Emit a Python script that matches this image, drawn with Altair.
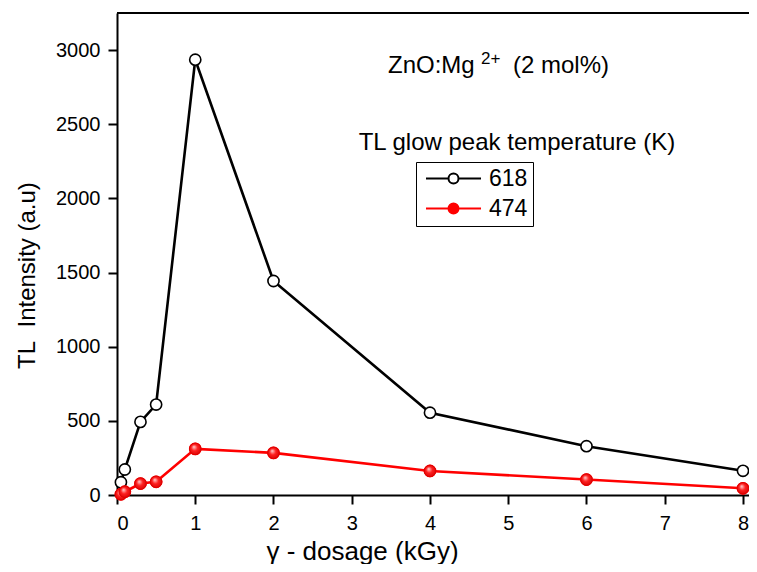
import altair as alt
import pandas as pd

# ---- data ----
dose = [0.05, 0.1, 0.3, 0.5, 1, 2, 4, 6, 8]
tl_618 = [86, 172, 493, 610, 2935, 1443, 555, 329, 163]
tl_474 = [5, 22, 77, 89, 311, 284, 162, 104, 45]
series_names = ["618", "474"]
series_colors = ["#000000", "#ff0000"]
series_fills = ["#ffffff", "#ff0000"]
x_ticks = [0, 1, 2, 3, 4, 5, 6, 7, 8]
y_ticks = [0, 500, 1000, 1500, 2000, 2500, 3000]

df = pd.DataFrame({
    "dose": dose + dose,
    "tl": tl_618 + tl_474,
    "series": [series_names[0]] * len(dose) + [series_names[1]] * len(dose),
})
one = pd.DataFrame({"k": [0]})

W, H = 632, 482
FONT = "Liberation Sans"

x_enc = alt.X("dose:Q", scale=alt.Scale(domain=[0, 8.077], nice=False, zero=False),
              axis=alt.Axis(values=x_ticks, format="d", grid=False, tickSize=9, tickWidth=2,
                            domainWidth=2, domainColor="black", tickColor="black",
                            labelFontSize=20, labelPadding=9, labelColor="black", labelFont=FONT,
                            title="γ - dosage (kGy)", titleFontSize=26, titleFontWeight="normal",
                            titleFont=FONT, titleColor="black", titleX=245, titleY=64,
                            titleBaseline="alphabetic", titleAlign="center"))
y_enc = alt.Y("tl:Q", scale=alt.Scale(domain=[0, 3250], nice=False),
              axis=alt.Axis(values=y_ticks, format="d", grid=False, tickSize=9, tickWidth=2,
                            domainWidth=2, domainColor="black", tickColor="black",
                            labelFontSize=20, labelPadding=8, labelColor="black", labelFont=FONT,
                            title="TL\u00a0\u00a0Intensity (a.u)", titleFontSize=24,
                            titleFontWeight="normal", titleFont=FONT, titleColor="black",
                            titleX=-83, titleY=262, titleAngle=270,
                            titleBaseline="alphabetic", titleAlign="center"))

sym_path = "M-5.5,0L-1,0M1,0L5.5,0M-1,0A1,1,0,1,0,1,0A1,1,0,1,0,-1,0Z"
leg = alt.Legend(title=None, orient="none", legendX=299, legendY=149,
                 strokeColor="black", padding=5, rowPadding=6,
                 symbolType=sym_path, symbolSize=100, symbolStrokeWidth=2,
                 symbolOffset=21, labelOffset=24, labelFontSize=23, labelFont=FONT,
                 labelColor="black", cornerRadius=0)

stroke_scale = alt.Scale(domain=series_names, range=series_colors)
fill_scale = alt.Scale(domain=series_names, range=series_fills)

base = alt.Chart(df)
single = alt.Chart(one)

top_rule = single.mark_rule(color="black", strokeWidth=2).encode(
    x=alt.value(0), x2=alt.value(W), y=alt.value(0))

lines = base.mark_line(strokeWidth=2.6).encode(
    x=x_enc, y=y_enc,
    stroke=alt.Stroke("series:N", scale=stroke_scale, legend=leg),
    order=alt.Order("dose:Q"))

points = base.mark_point(shape="circle", filled=True, opacity=1, size=125, strokeWidth=1.6).encode(
    x=x_enc, y=y_enc,
    stroke=alt.Stroke("series:N", scale=stroke_scale, legend=leg),
    fill=alt.Fill("series:N", scale=fill_scale, legend=leg))

grad = alt.RadialGradient(
    gradient="radial",
    stops=[alt.GradientStop(color="#ffd6d6", offset=0),
           alt.GradientStop(color="#ff2020", offset=0.45),
           alt.GradientStop(color="#d00000", offset=1)],
    x1=0.38, y1=0.32, r1=0, x2=0.5, y2=0.5, r2=0.6)

red_balls = base.mark_point(shape="circle", filled=True, opacity=1, size=135, fill=grad,
                            stroke="#e00000", strokeWidth=1).encode(
    x=x_enc, y=y_enc).transform_filter(alt.datum.series == series_names[1])

def label(txt, x, y, size, align="left"):
    return single.mark_text(align=align, baseline="alphabetic", fontSize=size, font=FONT,
                            color="black").encode(x=alt.value(x), y=alt.value(y),
                                                  text=alt.value(txt))

ann1 = label("ZnO:Mg", 271, 60, 24)
ann2 = label("2+", 364, 51, 17)
ann3 = label("(2 mol%)", 396, 60, 24)
ann4 = label("TL glow peak temperature (K)", 400, 137, 24, align="center")

chart = alt.layer(top_rule, lines, points, red_balls, ann1, ann2, ann3, ann4).properties(
    width=W, height=H,
    autosize=alt.AutoSizeParams(type="none"),
    padding={"left": 109, "top": 5, "right": 0, "bottom": 69},
).configure_view(stroke=None).configure(background="white")

chart.save("out.html", embed_options={"renderer": "svg", "actions": False})
